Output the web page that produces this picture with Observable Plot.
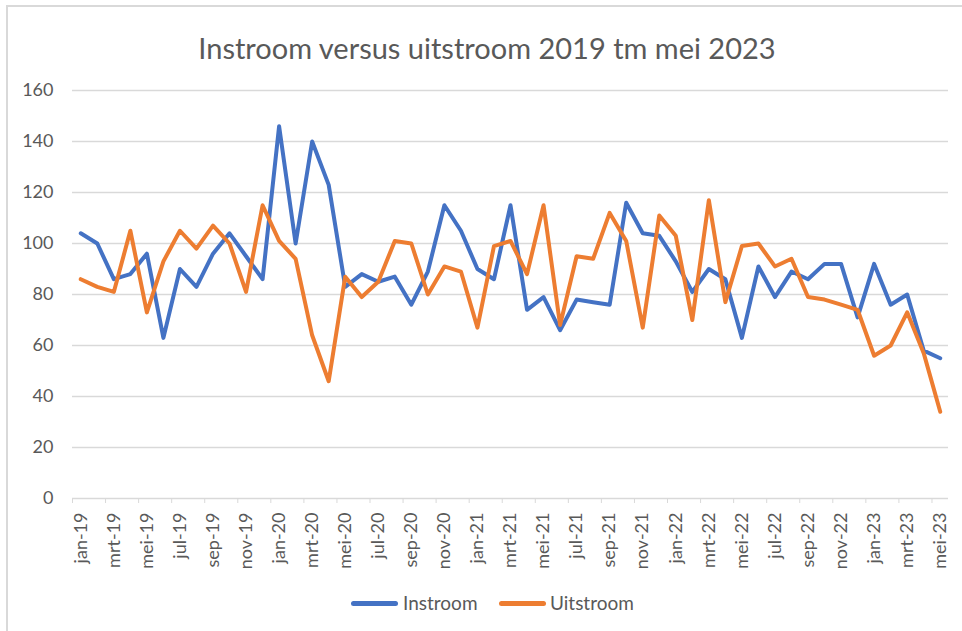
<!DOCTYPE html>
<html><head><meta charset="utf-8">
<script src="https://cdn.jsdelivr.net/npm/d3@7"></script>
<script src="https://cdn.jsdelivr.net/npm/@observablehq/plot@0.6"></script>
<style>
html,body{margin:0;padding:0;background:#fff;overflow:hidden;}
#wrap{position:relative;width:962px;height:631px;overflow:hidden;font-family:Lato,"Open Sans",sans-serif;color:#595959;}
#frame{position:absolute;left:6px;top:5px;width:1000px;height:700px;border-top:2px solid #d9d9d9;border-left:2px solid #d9d9d9;}
#chart{position:absolute;left:0;top:0;}
#title{position:absolute;left:0;width:974px;top:28px;text-align:center;font-size:29px;line-height:40px;color:#595959;white-space:nowrap;}
.sw{position:absolute;height:5px;border-radius:3px;width:47px;top:601px;}
.lt{position:absolute;top:591px;font-size:19px;line-height:24px;color:#595959;white-space:nowrap;}
</style></head>
<body>
<div id="wrap">
  <div id="frame"></div>
  <div id="chart"></div>
  <div id="title"></div>
  <div id="legend"></div>
</div>
<script>
const titleText = "Instroom versus uitstroom 2019 tm mei 2023";
const monthAbbr = ["jan","feb","mrt","apr","mei","jun","jul","aug","sep","okt","nov","dec"];
const yearLabels = ["19","20","21","22","23"];
const monthCount = 53;
const series = ["Instroom","Uitstroom"];
const colors = ["#4472C4","#ED7D31"];
const yTicks = [0,20,40,60,80,100,120,140,160];

const instroom = [104,100,86,88,96,63,90,83,96,104,95,86,
                  146,100,140,123,83,88,85,87,76,89,115,105,
                  90,86,115,74,79,66,78,77,76,116,104,103,
                  93,81,90,86,63,91,79,89,86,92,92,71,
                  92,76,80,58,55];
const uitstroom = [86,83,81,105,73,93,105,98,107,100,81,115,
                   101,94,64,46,87,79,85,101,100,80,91,89,
                   67,99,101,88,115,68,95,94,112,101,67,111,
                   103,70,117,77,99,100,91,94,79,78,76,74,
                   56,60,73,57,34];

const monthLabels = [];
for (let k = 0; k < monthCount; k++) {
  monthLabels.push(monthAbbr[k % 12] + "-" + yearLabels[Math.floor(k / 12)]);
}

const data = [];
[instroom, uitstroom].forEach((arr, s) => {
  arr.forEach((v, i) => data.push({i, v, s: series[s]}));
});

const labelTicks = d3.range(0, monthCount, 2);
const boundaryTicks = d3.range(-0.5, monthCount - 1, 2);

const chart = Plot.plot({
  width: 962,
  height: 631,
  marginLeft: 72,
  marginRight: 14,
  marginTop: 90,
  marginBottom: 133,
  style: {background: "transparent", fontFamily: "Lato, 'Open Sans', sans-serif", color: "#595959", fontSize: "18px"},
  x: {domain: [-0.5, monthCount - 0.5]},
  y: {domain: [0, 160]},
  color: {domain: series, range: colors},
  marks: [
    Plot.gridY({ticks: yTicks.slice(1), stroke: "#d9d9d9", strokeOpacity: 1, strokeWidth: 1.5}),
    Plot.axisY({ticks: yTicks, tickSize: 0, tickPadding: 19, label: null, fontSize: 18, fill: "#595959"}),
    Plot.ruleY([0], {stroke: "#d9d9d9", strokeWidth: 1.5}),
    Plot.axisX({ticks: boundaryTicks, tickSize: 5, tickFormat: () => "", label: null, stroke: "#d9d9d9", strokeOpacity: 1}),
    Plot.axisX({ticks: labelTicks, tickSize: 0, tickPadding: 14, tickRotate: -90, tickFormat: i => monthLabels[i], label: null, fontSize: 18, fill: "#595959"}),
    Plot.line(data, {x: "i", y: "v", z: "s", stroke: "s", strokeWidth: 4, strokeLinejoin: "round", strokeLinecap: "round"})
  ]
});
document.getElementById("chart").appendChild(chart);
document.getElementById("title").textContent = titleText;

const legend = document.getElementById("legend");
const swLeft = [351, 499];
const txLeft = [403, 550];
series.forEach((name, k) => {
  const sw = document.createElement("div");
  sw.className = "sw";
  sw.style.left = swLeft[k] + "px";
  sw.style.background = colors[k];
  legend.appendChild(sw);
  const t = document.createElement("div");
  t.className = "lt";
  t.style.left = txLeft[k] + "px";
  t.textContent = name;
  legend.appendChild(t);
});
</script>
</body></html>
